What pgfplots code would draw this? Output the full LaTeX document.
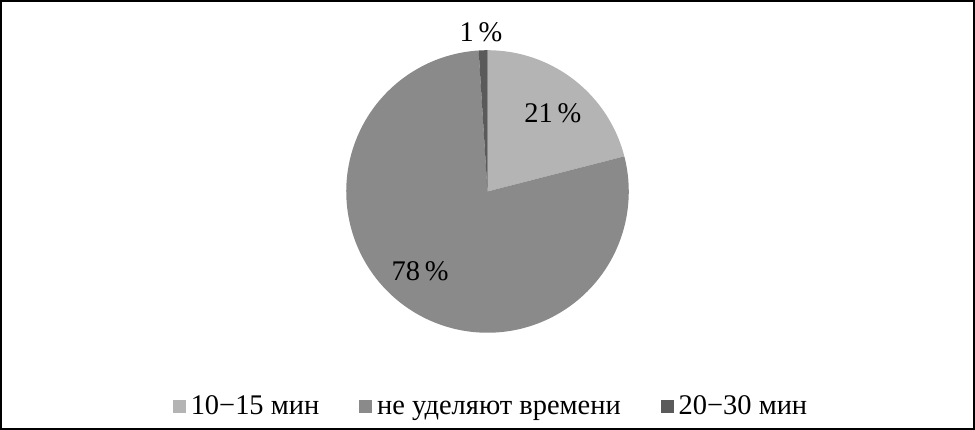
\documentclass[border=0pt]{standalone}
\usepackage{pgfplots}
\pgfplotsset{compat=1.18}
\usepackage{fontspec}
\setmainfont{Liberation Serif}
\definecolor{cA}{HTML}{B4B4B4}
\definecolor{cB}{HTML}{8A8A8A}
\definecolor{cC}{HTML}{5A5A5A}
% data (percent)
\def\vA{21}
\def\vB{78}
\def\vC{1}
\pgfmathsetmacro{\aZero}{90}
\pgfmathsetmacro{\aOne}{90-3.6*\vA}
\pgfmathsetmacro{\aTwo}{\aOne-3.6*\vB}
\pgfmathsetmacro{\aThree}{\aTwo-3.6*\vC}
\def\cx{487.5}
\def\cy{238}
\def\rr{141.5}
\begin{document}
\begin{tikzpicture}
\begin{axis}[
  scale only axis, width=975pt, height=429pt,
  xmin=0, xmax=975, ymin=0, ymax=429,
  xtick=\empty, ytick=\empty,
  axis line style={line width=1.6pt, black},
  font=\fontsize{28.5}{32}\selectfont,
  legend columns=3,
  legend style={at={(axis cs:491,20)}, anchor=center, draw=none, fill=none,
    font=\fontsize{28.5}{32}\selectfont,
    nodes={text height=0.72em, text depth=0.22em},
    /tikz/every odd column/.append style={column sep=3pt},
    /tikz/every even column/.append style={column sep=38pt}},
  legend image code/.code={\fill[#1] (0pt,-0.5pt) rectangle (13pt,12.5pt);},
]
\addplot[fill=cA, draw=none, domain=\aOne:\aZero, samples=80, variable=\t]
  ({\cx+\rr*cos(\t)},{\cy+\rr*sin(\t)}) -- (axis cs:\cx,\cy) -- cycle;
\addlegendentry{10−15 мин}
\addplot[fill=cB, draw=none, domain=\aTwo:\aOne, samples=200, variable=\t]
  ({\cx+\rr*cos(\t)},{\cy+\rr*sin(\t)}) -- (axis cs:\cx,\cy) -- cycle;
\addlegendentry{не уделяют времени}
\addplot[fill=cC, draw=none, domain=\aThree:\aTwo, samples=10, variable=\t]
  ({\cx+\rr*cos(\t)},{\cy+\rr*sin(\t)}) -- (axis cs:\cx,\cy) -- cycle;
\addlegendentry{20−30 мин}
\node at (axis cs:481,398) {1\,\%};
\node at (axis cs:553,316) {21\,\%};
\node at (axis cs:420,158) {78\,\%};
\end{axis}
\end{tikzpicture}
\end{document}
